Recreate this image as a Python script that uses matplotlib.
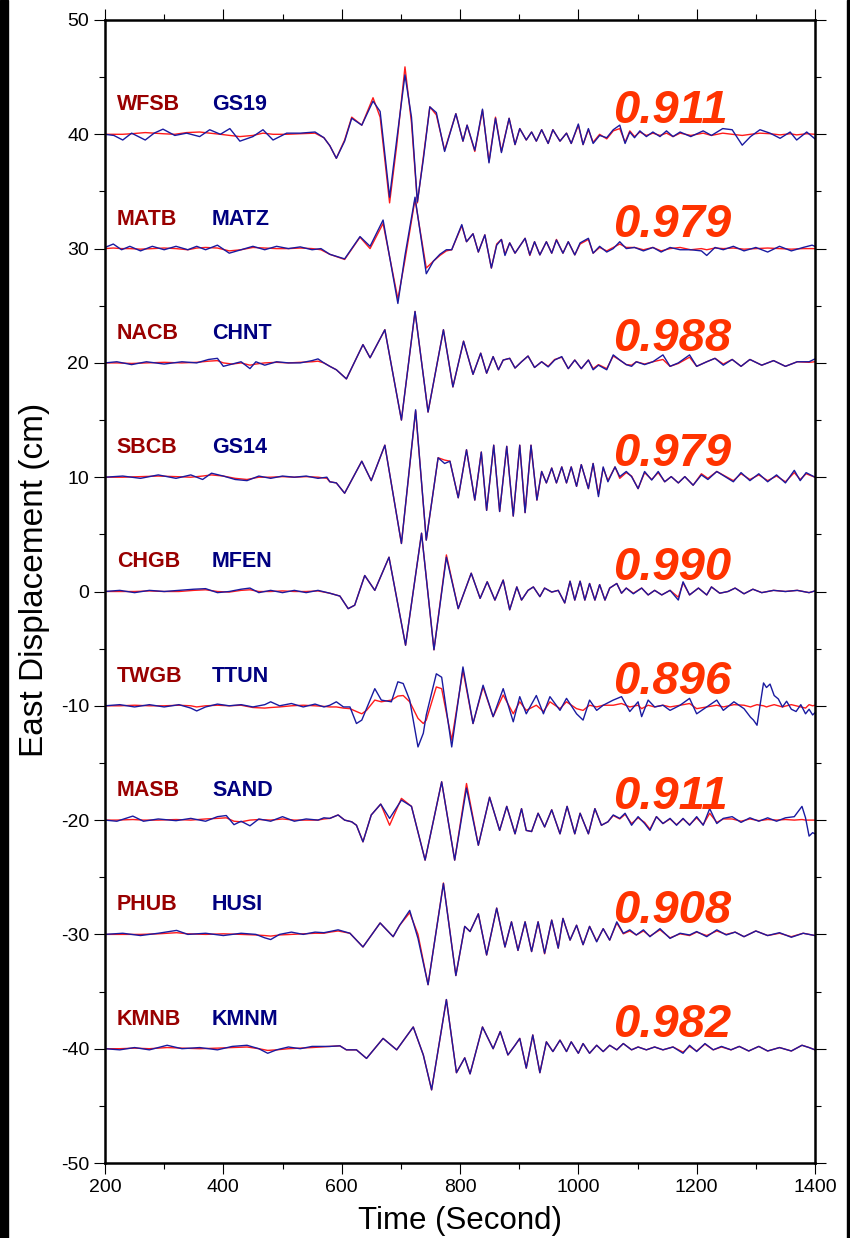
import matplotlib
matplotlib.use("Agg")
import matplotlib.pyplot as plt
from matplotlib.patches import Rectangle
from matplotlib.ticker import MultipleLocator

plt.rcParams['font.family'] = ['Liberation Sans', 'DejaVu Sans']
plt.rcParams['axes.unicode_minus'] = False

# station pairs (synthetic, observed), trace offsets and waveform correlations
syn_names = ["WFSB", "MATB", "NACB", "SBCB", "CHGB", "TWGB", "MASB", "PHUB", "KMNB"]
obs_names = ["GS19", "MATZ", "CHNT", "GS14", "MFEN", "TTUN", "SAND", "HUSI", "KMNM"]
offsets = [40, 30, 20, 10, 0, -10, -20, -30, -40]
corr = ["0.911", "0.979", "0.988", "0.979", "0.990", "0.896", "0.911", "0.908", "0.982"]

# ---- WFSB / GS19 ----
t_1 = [200, 215, 230, 245, 268, 283, 298, 318, 338, 360, 377, 395, 411, 428, 450, 467, 484, 507, 530, 555, 570,
       580, 591, 605, 617, 634, 653, 665, 681, 693, 707, 718, 728, 738, 749, 760, 774, 793, 805, 812, 825, 838, 849, 860, 870, 883, 893,
       901, 912, 921, 929, 938, 949, 957, 969, 980, 988, 1000, 1008, 1017, 1025, 1036, 1048, 1059, 1070, 1079, 1087, 1095, 1104, 1115, 1126, 1138, 1149, 1160,
       1172, 1190, 1211, 1225, 1244, 1260, 1277, 1291, 1307, 1324, 1341, 1358, 1369, 1386, 1400]
syn_1 = [0, 0, 0, 0.05, 0.15, 0.1, 0.05, 0, 0.15, 0.2, 0.1, 0, -0.1, -0.2, -0.1, 0.1, 0, 0, 0.05, 0.1, -0.3,
         -1.0, -2.1, -0.5, 1.5, 0.8, 3.2, 1.5, -6.0, -1.0, 5.9, 1.0, -6.0, -2.0, 2.4, 1.7, -1.4, 1.8, -0.6, 0.8, -1.5, 2.1, -2.4, 1.5, -1.5, 1.4, -0.9,
         0.5, -0.5, 0.2, -0.6, 0.4, -0.8, 0.4, -0.6, 0.1, -0.8, 0.8, -0.9, 0.4, -0.7, 0, -0.4, 0.3, 0.5, -0.7, 0.3, -0.2, 0.2, -0.1, 0.1, -0.1, 0.1, -0.2,
         0.1, -0.1, 0.1, -0.1, 0.1, 0, -0.1, 0, 0.1, 0.05, -0.05, 0.05, -0.05, 0.05, 0]
obs_1 = [0, -0.1, -0.5, 0.1, -0.5, 0.1, 0.45, -0.1, 0.1, -0.2, 0.4, 0, 0.5, -0.6, -0.2, 0.4, -0.5, 0.1, 0.1, 0.2, -0.3,
         -1.0, -2.1, -0.6, 1.4, 0.8, 2.9, 2.0, -5.5, -0.5, 5.2, 1.5, -5.9, -2.2, 2.4, 1.9, -1.5, 1.8, -0.6, 0.8, -1.4, 2.2, -2.5, 1.4, -1.6, 1.4, -0.9,
         0.5, -0.5, 0.2, -0.6, 0.4, -0.8, 0.4, -0.6, 0.1, -0.8, 0.9, -0.9, 0.5, -0.8, -0.1, -0.3, 0.4, 0.8, -0.8, 0.2, -0.3, 0.3, -0.2, 0.2, -0.2, 0.3, -0.2,
         0.2, -0.2, 0.3, -0.1, 0.5, 0.4, -0.95, -0.2, 0.4, 0.1, -0.35, 0.2, -0.5, 0.2, -0.4]

# ---- MATB / MATZ ----
t_2 = [200, 214, 228, 242, 260, 280, 300, 320, 340, 355, 370, 390, 410, 430, 450, 470, 490, 510, 530, 550, 565,
       580, 605, 631, 648, 670, 695, 707, 724, 743, 755, 766, 777, 786, 803, 811, 822, 831, 842, 853, 862, 870, 876, 884, 893,
       910, 918, 926, 935, 946, 955, 963, 974, 983, 994, 1003, 1017, 1025, 1036, 1048, 1059, 1070, 1081,
       1095, 1110, 1126, 1140, 1155, 1172, 1190, 1208, 1217, 1231, 1245, 1262, 1280, 1300, 1320, 1340, 1360, 1380, 1395, 1400]
syn_2 = [0, 0.05, 0, 0, -0.05, 0, 0.05, 0, -0.1, 0.05, 0.1, 0.05, -0.2, -0.1, 0.1, 0.05, 0, 0, 0.05, 0, -0.1,
         -0.5, -0.95, 1.0, 0, 2.2, -4.4, -1.0, 4.3, -1.7, -1.1, -0.6, -0.2, -0.1, 2.0, 0.6, 1.3, -0.3, 1.2, -1.7, 0.4, 0.8, -0.5, 0.5, -0.4,
         0.9, -0.6, 0.6, -0.55, 0.6, -0.4, 0.8, -0.4, 0.6, -0.55, 0.4, 0.8, -0.4, 0.1, -0.2, 0.1, 0.4, 0.1,
         0.1, -0.1, 0.1, -0.2, 0, 0.1, -0.1, 0, -0.1, 0.05, 0, 0.05, -0.05, 0, 0.05, 0, -0.05, 0, 0, 0]
obs_2 = [0.1, 0.4, -0.1, 0.2, -0.2, 0.2, -0.1, 0.2, -0.1, 0.2, -0.1, 0.3, -0.4, -0.1, 0.2, -0.1, 0.2, 0, 0.15, -0.1, 0,
         -0.5, -0.9, 1.05, 0.2, 2.5, -4.8, -0.6, 4.5, -2.2, -1.1, -0.5, -0.1, -0.1, 2.1, 0.6, 1.3, -0.3, 1.2, -1.7, 0.3, 0.8, -0.6, 0.5, -0.4,
         0.9, -0.55, 0.6, -0.55, 0.6, -0.4, 0.75, -0.4, 0.6, -0.55, 0.5, 0.9, -0.4, 0.2, -0.3, 0.0, 0.6, 0.0,
         0.1, -0.2, 0.1, -0.3, 0.1, -0.1, -0.1, -0.2, -0.6, 0.1, -0.1, 0.2, -0.2, 0.1, -0.3, 0.2, -0.2, 0.1, 0.3, 0.2]

# ---- NACB / CHNT ----
t_3 = [200, 220, 245, 270, 300, 330, 355, 375, 390, 400, 415, 430, 445, 455, 470, 490, 510, 530, 550, 560, 570,
       580, 591, 608, 636, 648, 673, 701, 724, 746, 772, 788, 806, 822, 835, 845, 856, 865, 873, 884, 893, 904, 915, 926, 938,
       949, 960, 972, 983, 994, 1005, 1017, 1025, 1034, 1048, 1059, 1070, 1081, 1090, 1098, 1112, 1126, 1143, 1155, 1169, 1188, 1200, 1217, 1231, 1245,
       1260, 1275, 1290, 1310, 1330, 1350, 1370, 1390, 1400]
syn_3 = [0, 0, -0.05, 0, 0.05, 0, 0.05, 0.15, 0.2, 0, -0.1, 0, -0.2, -0.1, 0, 0.05, 0, 0.05, 0.1, 0.15, 0,
         -0.3, -0.6, -1.4, 1.6, 0.45, 2.9, -5.0, 4.5, -4.3, 2.9, -2.1, 1.9, -1.0, 0.85, -0.9, 0.55, -0.6, 0.25, 0.4, -0.45, 0.1, 0.6, -0.4, 0.1,
         -0.3, 0.3, 0.5, -0.5, 0.25, -0.5, 0.25, -0.5, -0.15, -0.5, 0.6, 0.25, -0.15, -0.2, 0.1, -0.1, 0.1, 0.3, -0.3, -0.05, 0.5, -0.3, 0.1, 0.4, -0.1,
         0.3, -0.3, 0.3, -0.2, 0.2, -0.3, 0.1, 0.05, 0.1]
obs_3 = [0, 0.1, -0.15, 0.1, -0.1, 0.1, 0, 0.3, 0.4, -0.3, -0.1, 0.1, -0.5, 0.1, -0.2, 0.1, 0, 0, 0.2, 0.35, 0,
         -0.3, -0.6, -1.4, 1.6, 0.45, 2.9, -5.0, 4.5, -4.3, 2.9, -2.1, 1.9, -1.0, 0.85, -0.9, 0.55, -0.6, 0.25, 0.4, -0.45, 0.1, 0.6, -0.4, 0.1,
         -0.35, 0.25, 0.55, -0.5, 0.25, -0.5, 0.25, -0.6, -0.2, -0.6, 0.7, 0.25, -0.15, -0.3, 0.1, -0.15, 0.1, 0.7, -0.3, 0, 0.7, -0.3, 0.1, 0.4, -0.2,
         0.3, -0.3, 0.3, -0.2, 0.2, -0.3, 0.1, 0.1, 0.35]

# ---- SBCB / GS14 ----
t_4 = [200, 230, 260, 290, 320, 345, 365, 380, 400, 420, 440, 460, 480, 500, 520, 540, 560, 575,
       580, 591, 605, 634, 650, 673, 701, 725, 743, 763, 774, 783, 797, 811, 825, 836, 845, 857, 867, 879, 890, 901, 910, 920, 930,
       938, 946, 955, 963, 972, 980, 988, 997, 1005, 1017, 1025, 1034, 1042, 1050, 1062, 1070, 1081, 1090, 1101, 1112, 1124, 1135, 1146, 1157, 1169, 1180, 1194, 1208, 1219, 1234, 1248,
       1262, 1275, 1290, 1305, 1320, 1335, 1350, 1365, 1375, 1385, 1400]
syn_4 = [0, 0, 0.05, 0.1, 0.05, 0, 0.1, 0.2, 0.1, -0.1, -0.2, 0, 0, 0.05, 0, 0.05, 0, -0.1,
         -0.4, -0.5, -1.4, 1.4, -0.3, 2.8, -5.8, 5.8, -5.5, 1.7, 1.5, 1.4, -1.8, 2.4, -2.0, 2.2, -2.9, 2.8, -3.0, 2.7, -3.4, 2.8, -3.1, 2.8, -2.0,
         0.5, -0.5, 0.8, -0.5, 0.9, -0.5, 0.9, -0.8, 1.1, -1.0, 1.2, -1.5, 0.8, -0.3, 0.9, -0.1, 0.4, 0.1, -1.0, 0.4, -0.2, 0.4, -0.4, 0.05, -0.5, 0.05, -0.7, 0.3, -0.1, 0.5, 0.1,
         -0.3, 0.3, -0.2, 0.2, -0.3, 0.1, -0.4, 0.4, -0.2, 0.3, 0]
obs_4 = [0, 0.1, -0.1, 0.2, -0.1, 0.2, -0.2, 0.35, 0.1, -0.2, -0.3, 0.1, -0.1, 0.1, 0, 0.1, -0.1, 0,
         -0.4, -0.5, -1.4, 1.4, -0.3, 2.8, -5.8, 5.9, -5.5, 1.7, 1.2, 1.4, -1.8, 2.4, -2.0, 2.2, -2.9, 2.8, -3.0, 2.7, -3.4, 2.8, -3.1, 2.8, -2.0,
         0.5, -0.5, 0.8, -0.5, 0.9, -0.5, 0.9, -0.8, 1.1, -1.0, 1.2, -1.7, 0.9, -0.4, 0.9, 0.05, 0.5, 0.05, -1.0, 0.5, -0.25, 0.5, -0.4, 0.05, -0.5, 0.05, -0.7, 0.2, -0.2, 0.5, 0.05,
         -0.4, 0.4, -0.3, 0.3, -0.4, 0.2, -0.5, 0.6, -0.3, 0.4, 0]

# ---- CHGB / MFEN ----
t_5 = [200, 225, 250, 275, 300, 325, 350, 370, 390, 410, 430, 445, 460, 480, 500, 520, 540, 560,
       580, 597, 611, 622, 639, 656, 680, 708, 735, 756, 777, 797, 819, 834, 846, 859, 873, 884, 896, 904, 915, 924, 935, 943, 955, 966,
       977, 986, 994, 1003, 1011, 1019, 1028, 1036, 1045, 1053, 1065, 1073, 1081, 1093, 1107, 1118, 1129, 1141, 1155, 1169, 1177, 1188, 1203, 1217, 1225, 1239, 1253,
       1265, 1280, 1295, 1310, 1330, 1350, 1370, 1390, 1400]
syn_5 = [0, 0, 0, 0.05, 0, 0, 0.1, 0.15, 0, -0.05, 0.1, 0.15, 0, 0, 0.05, 0, 0, 0.05,
         -0.15, -0.4, -1.5, -1.2, 1.4, 0.1, 3.0, -4.7, 5.1, -5.1, 3.2, -1.5, 1.6, -0.6, 0.85, -0.75, 1.0, -1.6, 0.4, -0.75, 0.1, 0.4, -0.45, 0.3, -0.05, 0.1,
         -1.0, 0.9, -0.75, 0.9, -0.75, 0.7, -0.75, 0.6, -0.75, 0.3, 0.7, -0.15, 0.3, -0.15, 0.3, -0.3, 0.1, -0.3, 0.1, -0.5, 0.75, -0.3, 0.3, -0.3, 0.4, -0.15, 0,
         0.3, -0.2, 0.2, -0.1, 0.1, 0, 0.1, -0.1, 0.05]
obs_5 = [0, 0.1, -0.1, 0.1, 0, 0.1, 0.2, 0.25, -0.1, 0, 0.2, 0.3, -0.1, 0.1, -0.1, 0.1, -0.1, 0.1,
         -0.15, -0.4, -1.5, -1.2, 1.4, 0.1, 3.0, -4.7, 5.1, -5.1, 3.0, -1.5, 1.6, -0.6, 0.85, -0.75, 1.0, -1.6, 0.4, -0.75, 0.1, 0.4, -0.45, 0.3, -0.05, 0.1,
         -1.0, 0.9, -0.75, 0.9, -0.75, 0.7, -0.75, 0.6, -0.75, 0.3, 0.7, -0.15, 0.3, -0.2, 0.3, -0.3, 0.1, -0.3, 0.1, -0.75, 0.85, -0.3, 0.3, -0.3, 0.4, -0.15, 0,
         0.3, -0.2, 0.2, -0.1, 0.1, 0, 0.1, -0.1, 0.05]

# ---- TWGB / TTUN ----
t_6 = [200, 225, 250, 275, 300, 325, 345, 355, 370, 390, 410, 430, 450, 470, 480, 495, 515, 535, 555, 570,
       580, 591, 603, 614, 625, 634, 642, 656, 667, 684, 695, 704, 715, 729, 738, 743, 760, 769, 786, 805, 822, 839, 856, 873, 890, 901,
       912, 929, 941, 952, 969, 980, 997, 1008, 1019, 1031, 1042, 1059, 1073, 1087, 1101, 1107, 1118, 1129, 1143, 1155, 1172, 1188, 1200, 1217, 1234, 1245,
       1263, 1280, 1291, 1296, 1302, 1307, 1313, 1318, 1324, 1331, 1338, 1345, 1352, 1360, 1368, 1376, 1384, 1390, 1396, 1400]
syn_6 = [0, 0, 0.05, 0, 0, 0.05, 0, -0.1, 0, 0.05, 0, 0.05, -0.15, -0.2, -0.15, -0.1, 0, 0.05, 0, -0.05,
         -0.1, -0.1, -0.2, -0.25, -0.5, -0.7, -0.4, 0.5, 0.35, 0.5, 0.85, 0.9, 0.35, -1.1, -1.55, -1.25, 1.65, 1.5, -3.0, 3.1, -1.55, 1.65, -0.95, 0.95, -0.7, 0.35,
         -0.4, 0.05, -0.5, 0.35, -0.25, 0.35, -0.25, -0.4, 0.05, -0.1, 0.05, 0.05, 0.2, -0.1, 0.05, -0.25, 0.05, -0.1, 0.05, -0.1, 0.05, 0.2, -0.25, -0.1, 0.05, -0.1,
         0.1, 0.05, -0.1, 0, 0.1, 0.05, 0, -0.1, 0, 0.1, 0, -0.1, 0, 0.1, 0, -0.1, -0.2, 0.1, 0, 0.05]
obs_6 = [0, 0.1, -0.1, 0.1, -0.1, 0.1, -0.2, -0.45, -0.1, 0.15, 0, 0.1, -0.1, 0.1, 0.35, 0, 0.2, -0.1, 0.15, -0.1,
         0.05, 0.35, -0.1, -0.1, -1.55, -1.25, -0.25, 1.5, 0.5, 0.35, 2.1, 1.95, 0.5, -3.6, -2.4, -0.8, 2.8, 2.5, -3.6, 3.4, -1.55, 1.8, -0.95, 1.5, -1.4, 0.8,
         -0.7, 0.9, -0.7, 0.8, -0.4, 0.65, -0.7, -1.25, 0.5, -0.4, 0.05, 0.5, 0.8, -0.5, 0.35, -0.95, 0.5, -0.1, 0.05, -0.4, 0.05, 0.65, -0.7, -0.1, 0.5, -0.4,
         0.35, -0.25, -1.0, -1.25, -1.7, 0.0, 2.0, 1.6, 1.9, 0.9, 0.6, -0.1, 0.4, -0.3, -0.5, 0.1, -0.7, -0.3, -0.8, -0.6]

# ---- MASB / SAND ----
t_7 = [200, 220, 247, 265, 290, 320, 345, 370, 390, 405, 418, 430, 445, 460, 480, 500, 520, 540, 560, 570,
       580, 594, 605, 617, 625, 636, 650, 666, 681, 701, 718, 741, 769, 791, 811, 831, 850, 867, 879, 893, 904, 912, 921, 932, 943,
       955, 969, 981, 994, 1003, 1017, 1028, 1039, 1050, 1059, 1070, 1079, 1090, 1101, 1112, 1121, 1132, 1143, 1155, 1166, 1177, 1188, 1200, 1211, 1222, 1234, 1245,
       1260, 1275, 1290, 1305, 1320, 1335, 1350, 1365, 1378, 1384, 1390, 1396, 1400]
syn_7 = [0, 0, 0.05, 0, 0, 0.05, 0, 0.1, 0.15, 0.2, -0.1, -0.15, 0, 0.05, 0, 0.1, 0, 0, 0, 0.1,
         0.15, 0.45, 0, -0.15, -0.45, -1.9, 0.45, 1.4, -0.45, 1.9, 1.2, -3.5, 3.35, -3.5, 3.2, -2.2, 2.0, -0.9, 1.2, -1.2, 1.0, -0.9, -1.0, 0.6, -0.6,
         0.9, -1.2, 1.2, -1.2, 0.6, -1.2, 1.0, -0.45, -0.15, 0.4, 0.1, 0.5, -0.3, 0.2, -0.2, -0.8, 0.3, -0.3, 0.1, -0.4, 0.1, -0.4, 0.2, -0.4, 0.6, -0.2, 0.1,
         0.1, -0.1, 0.1, -0.05, 0.05, 0, 0.05, 0, 0.05, 0, 0, 0, 0]
obs_7 = [0, -0.1, 0.35, -0.1, 0.1, -0.05, 0.15, -0.1, 0.3, 0.4, -0.4, -0.1, -0.5, 0.1, -0.1, 0.3, -0.1, 0.1, 0, 0.2,
         0.15, 0.45, 0, -0.15, -0.45, -1.9, 0.45, 1.4, 0.15, 1.75, 1.2, -3.5, 3.35, -3.5, 2.8, -2.2, 2.0, -0.9, 1.2, -1.2, 1.0, -0.9, -1.0, 0.6, -0.6,
         0.9, -1.2, 1.2, -1.2, 0.6, -1.2, 1.0, -0.45, -0.15, 0.45, 0.15, 0.6, -0.45, 0.3, -0.3, -0.9, 0.3, -0.3, 0.15, -0.45, 0.15, -0.45, 0.3, -0.45, 1.0, -0.3, 0.15,
         0.3, -0.2, 0.2, -0.1, 0.2, -0.1, 0.2, 0.3, 1.2, 0.2, -1.4, -1.1, -1.2]

# ---- PHUB / HUSI ----
t_8 = [200, 230, 260, 290, 321, 340, 370, 400, 430, 455, 470, 480, 495, 515, 535, 555, 570,
       580, 594, 614, 636, 665, 687, 698, 715, 729, 746, 772, 793, 808, 817, 831, 845, 862, 876, 887, 898, 910, 921, 932, 943,
       955, 966, 974, 986, 997, 1008, 1019, 1031, 1042, 1053, 1065, 1076, 1087, 1098, 1110, 1121, 1138, 1155, 1172, 1188, 1200, 1217, 1234, 1250,
       1265, 1280, 1300, 1320, 1340, 1360, 1380, 1400]
syn_8 = [0, 0, 0, 0.05, 0.15, 0.05, 0, 0.05, 0, -0.05, -0.1, -0.15, -0.05, 0, 0.05, 0.1, 0.1,
         0.2, 0.3, 0.1, -1.1, 1.0, -0.2, 0.8, 1.9, 0.0, -4.4, 4.5, -3.6, 0.7, 0.25, 1.8, -1.8, 2.3, -1.1, 1.1, -1.4, 1.1, -1.5, 1.1, -1.7,
         1.25, -1.2, 1.4, -0.5, 0.8, -0.9, 0.7, -0.6, 0.5, -0.5, 1.0, 0.05, 0.3, -0.05, 0.3, -0.15, 0.4, -0.3, 0.05, -0.1, 0.2, -0.1, 0.3, 0,
         0.2, -0.2, 0.3, -0.1, 0.1, -0.2, 0.1, -0.1]
obs_8 = [0, 0.1, -0.1, 0.1, 0.35, 0, 0.1, -0.1, 0.1, 0, -0.3, -0.45, 0, 0.2, 0, 0.2, 0.15,
         0.25, 0.4, 0.1, -1.1, 1.0, -0.2, 0.8, 2.1, -0.35, -4.4, 4.45, -3.6, 0.7, 0.25, 1.8, -1.8, 2.3, -1.1, 1.1, -1.4, 1.1, -1.5, 1.1, -1.65,
         1.25, -1.2, 1.4, -0.5, 0.8, -0.9, 0.7, -0.65, 0.5, -0.5, 1.1, 0.1, 0.4, -0.05, 0.4, -0.2, 0.5, -0.35, 0.1, -0.05, 0.25, -0.2, 0.4, -0.05,
         0.2, -0.2, 0.3, -0.1, 0.15, -0.25, 0.1, -0.1]

# ---- KMNB / KMNM ----
t_9 = [200, 225, 250, 275, 305, 330, 360, 390, 415, 440, 460, 475, 490, 510, 530, 550, 565,
       580, 597, 608, 625, 642, 670, 693, 721, 738, 752, 777, 794, 808, 817, 838, 856, 868, 881, 893, 901, 912, 923, 935, 946,
       957, 969, 980, 988, 1000, 1008, 1019, 1031, 1042, 1053, 1065, 1076, 1090, 1101, 1115, 1129, 1143, 1160, 1177, 1188, 1200, 1214, 1228, 1242,
       1258, 1272, 1288, 1305, 1320, 1340, 1360, 1378, 1390, 1400]
syn_9 = [0, 0, 0.05, 0, 0.1, 0.05, 0, 0.05, 0.1, 0.15, 0, -0.15, -0.1, 0, 0.05, 0.1, 0.15,
         0.2, 0.25, -0.1, -0.1, -0.85, 0.9, -0.1, 1.9, -0.55, -3.6, 4.3, -2.1, -0.8, -2.2, 1.9, 0.0, 1.5, -0.55, 0.3, 0.9, -1.7, 1.2, -2.1, 0.6,
         -0.25, 0.75, -0.25, 0.6, -0.4, 0.45, -0.4, 0.3, -0.25, 0.3, -0.1, 0.45, -0.1, 0.15, -0.1, 0.15, -0.1, 0.15, -0.3, 0.2, -0.2, 0.4, -0.1, 0.15,
         -0.1, 0.2, -0.2, 0.2, -0.2, 0.1, -0.2, 0.3, 0.1, -0.1]
obs_9 = [0, -0.1, 0.1, -0.1, 0.3, 0, 0.1, -0.1, 0.2, 0.3, 0, -0.4, -0.1, 0.15, 0, 0.2, 0.2,
         0.2, 0.25, -0.1, -0.1, -0.85, 0.9, -0.1, 1.9, -0.55, -3.6, 4.3, -2.1, -0.8, -2.2, 1.9, 0.0, 1.5, -0.55, 0.3, 0.9, -1.7, 1.2, -2.1, 0.6,
         -0.25, 0.75, -0.25, 0.6, -0.4, 0.45, -0.4, 0.3, -0.25, 0.3, -0.1, 0.45, -0.1, 0.15, -0.1, 0.15, -0.1, 0.15, -0.4, 0.3, -0.25, 0.45, -0.1, 0.2,
         -0.1, 0.2, -0.2, 0.2, -0.2, 0.1, -0.2, 0.3, 0.1, -0.1]

times = [t_1, t_2, t_3, t_4, t_5, t_6, t_7, t_8, t_9]
syn = [syn_1, syn_2, syn_3, syn_4, syn_5, syn_6, syn_7, syn_8, syn_9]
obs = [obs_1, obs_2, obs_3, obs_4, obs_5, obs_6, obs_7, obs_8, obs_9]

fig = plt.figure(figsize=(8.5, 12.38), dpi=100)
fig.patches.append(Rectangle((0, 0), 8 / 850, 1, transform=fig.transFigure, color='black', zorder=0))
fig.patches.append(Rectangle((847 / 850, 0), 3 / 850, 1, transform=fig.transFigure, color='black', zorder=0))
ax = fig.add_axes([105 / 850, 1 - 1163 / 1238, 710 / 850, 1143 / 1238])

for i in range(len(offsets)):
    off = offsets[i]
    ax.plot(times[i], [off + v for v in syn[i]], color='#ff1a1a', lw=1.0, solid_joinstyle='round')
    ax.plot(times[i], [off + v for v in obs[i]], color='#1a1aa0', lw=1.0, solid_joinstyle='round')
    ax.text(220, off + 2.1, syn_names[i], color='#990000', fontsize=15.5, fontweight='bold')
    ax.text(381, off + 2.1, obs_names[i], color='#000080', fontsize=15.5, fontweight='bold')
    ax.text(1058, off + 1.0, corr[i], color='#ff3300', fontsize=34, fontweight='bold', style='italic')

ax.set_xlim(200, 1400)
ax.set_ylim(-50, 50)
ax.xaxis.set_major_locator(MultipleLocator(200))
ax.xaxis.set_minor_locator(MultipleLocator(100))
ax.yaxis.set_major_locator(MultipleLocator(10))
ax.yaxis.set_minor_locator(MultipleLocator(5))
ax.tick_params(which='both', direction='out', top=True, right=True, width=0.8, labelsize=14)
ax.tick_params(which='major', length=8)
ax.tick_params(which='minor', length=4.5)
for s in ax.spines.values():
    s.set_linewidth(1.8)

ax.set_xlabel("Time (Second)", fontsize=22.5)
ax.set_ylabel("East Displacement (cm)", fontsize=24)
ax.xaxis.set_label_coords(0.5, -0.038)
ax.yaxis.set_label_coords(-0.078, 0.51)

fig.savefig("out.png", dpi=100)
